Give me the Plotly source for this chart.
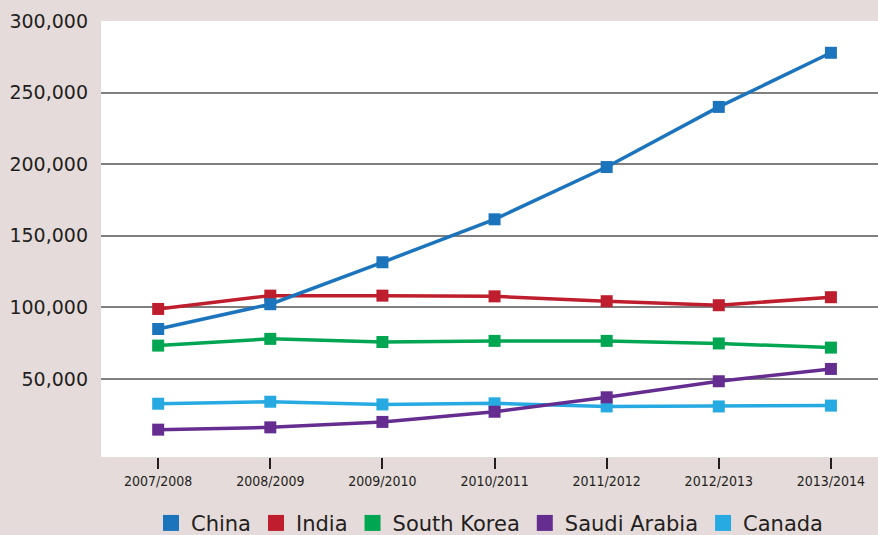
import plotly.graph_objects as go

years = ["2007/2008", "2008/2009", "2009/2010", "2010/2011", "2011/2012", "2012/2013", "2013/2014"]
china = [84900, 102200, 131500, 161500, 198000, 240000, 277800]
india = [98900, 108200, 108200, 107700, 104300, 101500, 107100]
south_korea = [73300, 78000, 75800, 76600, 76600, 74800, 71900]
saudi_arabia = [14600, 16200, 20000, 27100, 37200, 48400, 57000]
canada = [32700, 34100, 32200, 33000, 30800, 30800, 31400]

y_ticks = [50000, 100000, 150000, 200000, 250000, 300000]

series = [
    ("Canada", canada, "#27aae1"),
    ("Saudi Arabia", saudi_arabia, "#662d91"),
    ("South Korea", south_korea, "#00a651"),
    ("India", india, "#be1e2d"),
    ("China", china, "#1c75bc"),
]

fig = go.Figure()
for name, vals, color in series:
    fig.add_trace(go.Scatter(
        x=years, y=vals, name=name, mode="lines+markers",
        line=dict(color=color, width=3.5),
        marker=dict(symbol="square", size=12, color=color),
        showlegend=False,
    ))
# legend entries (square swatches)
for name, vals, color in series:
    fig.add_trace(go.Scatter(
        x=[None], y=[None], name=name, mode="markers",
        marker=dict(symbol="square", size=20, color=color),
        showlegend=True,
    ))

fig.update_layout(
    width=878, height=535,
    margin=dict(l=101, r=0, t=21, b=78, autoexpand=False),
    paper_bgcolor="#e6dbdb",
    plot_bgcolor="#ffffff",
    legend=dict(
        orientation="h", x=0.5, xanchor="center", y=-0.152, yanchor="middle",
        traceorder="reversed",
        font=dict(family="DejaVu Sans", size=21, color="#231f20"),
        bgcolor="rgba(0,0,0,0)",
    ),
    xaxis=dict(
        type="category", range=[-0.51, 6.42],
        showgrid=False, showline=False, zeroline=False,
        ticks="outside", ticklen=11, tickwidth=1.5, tickcolor="#231f20",
        tickfont=dict(family="DejaVu Sans Condensed", size=14, color="#231f20"),
    ),
    yaxis=dict(
        range=[-4500, 300000],
        tickvals=y_ticks, tickformat=",",
        showgrid=True, gridcolor="#7f7f7f", gridwidth=2,
        zeroline=False, showline=False,
        ticks="", ticklabelstandoff=12,
        tickfont=dict(family="DejaVu Sans", size=19, color="#231f20"),
    ),
)

fig.write_html(
    "out.html",
    config={"displayModeBar": False},
    post_script="document.body.style.margin='0';document.body.style.overflow='hidden';",
)
